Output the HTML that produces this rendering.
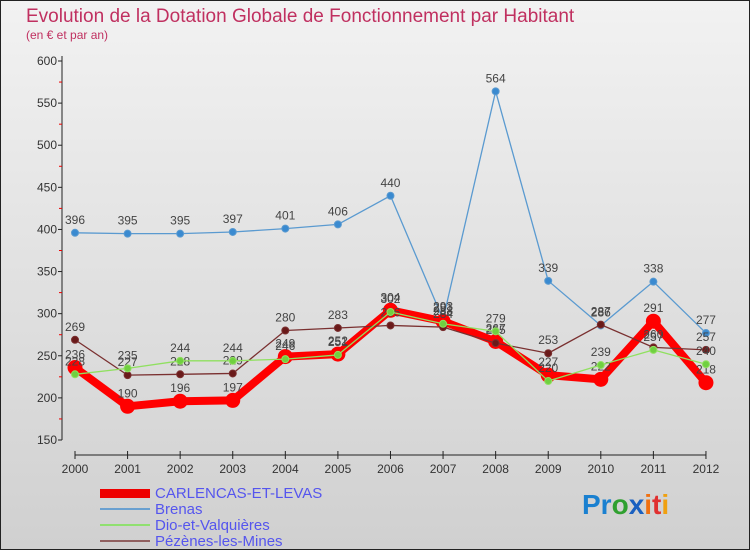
<!DOCTYPE html>
<html><head><meta charset="utf-8"><style>
body{margin:0}
svg text{font-family:"Liberation Sans",sans-serif}
</style></head><body>
<svg id="c" width="750" height="550" xmlns="http://www.w3.org/2000/svg">
<defs><linearGradient id="bg" x1="0" y1="0" x2="0" y2="1"><stop offset="0" stop-color="#f2f2f2"/><stop offset="1" stop-color="#d0d0d0"/></linearGradient></defs>
<rect x="0.5" y="0.5" width="749" height="549" fill="url(#bg)" stroke="#222"/>
<text x="26" y="22" font-size="19" fill="#c03060">Evolution de la Dotation Globale de Fonctionnement par Habitant</text>
<text x="26" y="39" font-size="12" fill="#c03060">(en € et par an)</text>
<g id="axes"></g><g id="series"></g>
<g>
<rect x="100" y="489" width="50" height="9" fill="#e00"/>
<text x="155" y="498" font-size="15" fill="#5555ee">CARLENCAS-ET-LEVAS</text>
<rect x="100" y="508" width="50" height="2" fill="#6aa0d0"/>
<text x="155" y="514" font-size="15" fill="#5555ee">Brenas</text>
<rect x="100" y="524" width="50" height="2" fill="#90e070"/>
<text x="155" y="530" font-size="15" fill="#5555ee">Dio-et-Valquières</text>
<rect x="100" y="540" width="50" height="2" fill="#906060"/>
<text x="155" y="546" font-size="15" fill="#5555ee">Pézènes-les-Mines</text>
</g>
<text x="582" y="514" font-size="28" font-weight="bold"><tspan fill="#1a80d0">Pr</tspan><tspan fill="#30a030">o</tspan><tspan fill="#1a60c0">x</tspan><tspan fill="#f07010">i</tspan><tspan fill="#e03030">t</tspan><tspan fill="#f0a010">i</tspan></text>
</svg>
<script>
const years=[2000,2001,2002,2003,2004,2005,2006,2007,2008,2009,2010,2011,2012];
const yTicks=[150,200,250,300,350,400,450,500,550,600];
const carlencas=[236,190,196,197,249,252,304,291,267,227,222,291,218];
const brenas=[396,395,395,397,401,406,440,293,564,339,286,338,277];
const dio=[228,235,244,244,246,251,302,288,279,220,239,257,240];
const pezenes=[269,227,228,229,280,283,286,284,265,253,287,260,257];
const NS="http://www.w3.org/2000/svg";
const x=i=>75+i*52.58, y=v=>61+(600-v)*0.8422;
function mk(t,a,p){const e=document.createElementNS(NS,t);for(const k in a)e.setAttribute(k,a[k]);p.appendChild(e);return e;}
const ax=document.getElementById('axes'), sg=document.getElementById('series');
const yl=mk('line',{x1:62,y1:56,x2:62,y2:440,stroke:'#222'},ax);

yTicks.forEach(v=>{const t=mk('text',{x:57,y:y(v)+4,'font-size':12,fill:'#333','text-anchor':'end'},ax);t.textContent=v;

mk('line',{x1:58,y1:y(v),x2:62,y2:y(v),stroke:'#222'},ax);
if(v<600)mk('line',{x1:59,y1:y(v+25),x2:62,y2:y(v+25),stroke:'#e00'},ax);});
const xl=mk('line',{x1:75,y1:455,x2:706,y2:455,stroke:'#222'},ax);

years.forEach((yr,i)=>{mk('line',{x1:x(i),y1:451,x2:x(i),y2:459,stroke:'#222'},ax);
const t=mk('text',{x:x(i),y:473,'font-size':12,fill:'#333','text-anchor':'middle'},ax);t.textContent=yr;
});
function series(name,data,color,w,r,fill){
 const g=mk('g',{},sg);
 mk('polyline',{points:data.map((v,i)=>x(i)+','+y(v)).join(' '),fill:'none',stroke:color,'stroke-width':w,'stroke-linejoin':'round'},g);
 data.forEach((v,i)=>{const c=mk('circle',{cx:x(i),cy:y(v),r:r,fill:fill,stroke:color,'stroke-width':1},g);
 
 const t=mk('text',{x:x(i),y:y(v)-9,'font-size':12,fill:'#444','text-anchor':'middle'},g);t.textContent=v;});
}
series('brenas-line',brenas,'#5a9ad0',1.3,3.5,'#3a8ad0');
series('carlencas-line',carlencas,'#f00',8,7,'#f00');
series('pezenes-line',pezenes,'#7a3030',1.3,3.5,'#6a1a1a');
series('dio-line',dio,'#90e060',1.3,3.5,'#70d040');
</script>
</body></html>
